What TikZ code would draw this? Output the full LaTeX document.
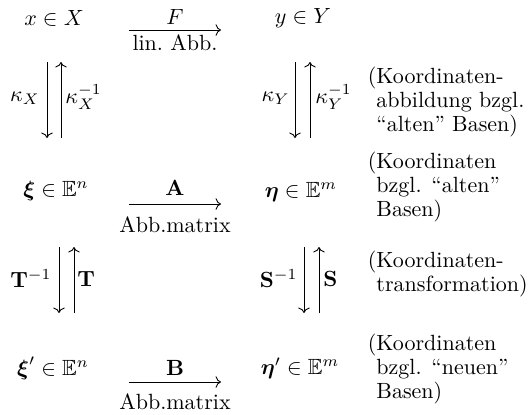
\documentclass[tikz,border=0pt]{standalone}
\usepackage{amsmath,amssymb}
\usetikzlibrary{arrows.meta, positioning}

\begin{document}
\begin{tikzpicture}[x=0.4545pt, y=-0.4545pt,
    lbl/.style={inner sep=0pt},
    note/.style={anchor=west, align=left, inner sep=0pt, font=\fontsize{10pt}{10.7pt}\selectfont}]
    \useasboundingbox (0,0) rectangle (529,414);

    % spaces and coordinate vectors
    \node (xX) at (54,18) {$x \in X$};
    \node (yY) at (303,18) {$y \in Y$};
    \node (xi) at (56,191) {$\boldsymbol{\xi} \in \mathbb{E}^n$};
    \node (eta) at (301,192) {$\boldsymbol{\eta} \in \mathbb{E}^m$};
    \node (xip) at (53,368) {$\boldsymbol{\xi}' \in \mathbb{E}^n$};
    \node (etap) at (300,368) {$\boldsymbol{\eta}' \in \mathbb{E}^m$};

    % horizontal maps
    \coordinate (Fs) at (129,30);  \coordinate (Fe) at (221,30);
    \coordinate (As) at (129,204); \coordinate (Ae) at (221,204);
    \coordinate (Bs) at (129,382); \coordinate (Be) at (221,382);
    \draw[->] (Fs) -- (Fe);
    \draw[->] (As) -- (Ae);
    \draw[->] (Bs) -- (Be);
    \node (Ftop) at (175,17) {$F$};
    \node (Fbot) at (175,43) {lin.\ Abb.};
    \node (Atop) at (175,188) {$\mathbf{A}$};
    \node (Abot) at (175,225) {Abb.matrix};
    \node (Btop) at (175,368) {$\mathbf{B}$};
    \node (Bbot) at (175,402) {Abb.matrix};

    % vertical maps
    \coordinate (kXa) at (47,62);  \coordinate (kXb) at (47,138);
    \coordinate (kXia) at (61,62); \coordinate (kXib) at (61,138);
    \coordinate (kYa) at (295,62);  \coordinate (kYb) at (295,138);
    \coordinate (kYia) at (310,62); \coordinate (kYib) at (310,138);
    \coordinate (Tia) at (59,247);  \coordinate (Tib) at (59,313);
    \coordinate (Ta) at (74,247);   \coordinate (Tb) at (74,313);
    \coordinate (Sia) at (304,247); \coordinate (Sib) at (304,313);
    \coordinate (Sa) at (319,247);  \coordinate (Sb) at (319,313);
    \draw[->] (kXa) -- (kXb);
    \draw[->] (kXib) -- (kXia);
    \draw[->] (kYa) -- (kYb);
    \draw[->] (kYib) -- (kYia);
    \draw[->] (Tia) -- (Tib);
    \draw[->] (Tb) -- (Ta);
    \draw[->] (Sia) -- (Sib);
    \draw[->] (Sb) -- (Sa);

    \node[lbl, anchor=east] (kX) at (40,98) {$\kappa_X$};
    \node[lbl, anchor=west] (kXi) at (65,97) {$\kappa_X^{-1}$};
    \node[lbl, anchor=east] (kY) at (290,98) {$\kappa_Y$};
    \node[lbl, anchor=west] (kYi) at (315,97) {$\kappa_Y^{-1}$};
    \node[lbl, anchor=east] (Ti) at (52,279) {$\mathbf{T}^{-1}$};
    \node[lbl, anchor=west] (T) at (77,279) {$\mathbf{T}$};
    \node[lbl, anchor=east] (Si) at (298,279) {$\mathbf{S}^{-1}$};
    \node[lbl, anchor=west] (S) at (323,279) {$\mathbf{S}$};

    % remarks
    \node[note] (n1) at (376,102) {\llap{(}Koordinaten-\\abbildung bzgl.\\``alten'' Basen)};
    \node[note] (n2) at (376,187) {\llap{(}Koordinaten\\bzgl. ``alten''\\Basen)};
    \node[note] (n3) at (376,274) {\llap{(}Koordinaten-\\transformation)};
    \node[note] (n4) at (376,369) {\llap{(}Koordinaten\\bzgl. ``neuen''\\Basen)};
\end{tikzpicture}
\end{document}
